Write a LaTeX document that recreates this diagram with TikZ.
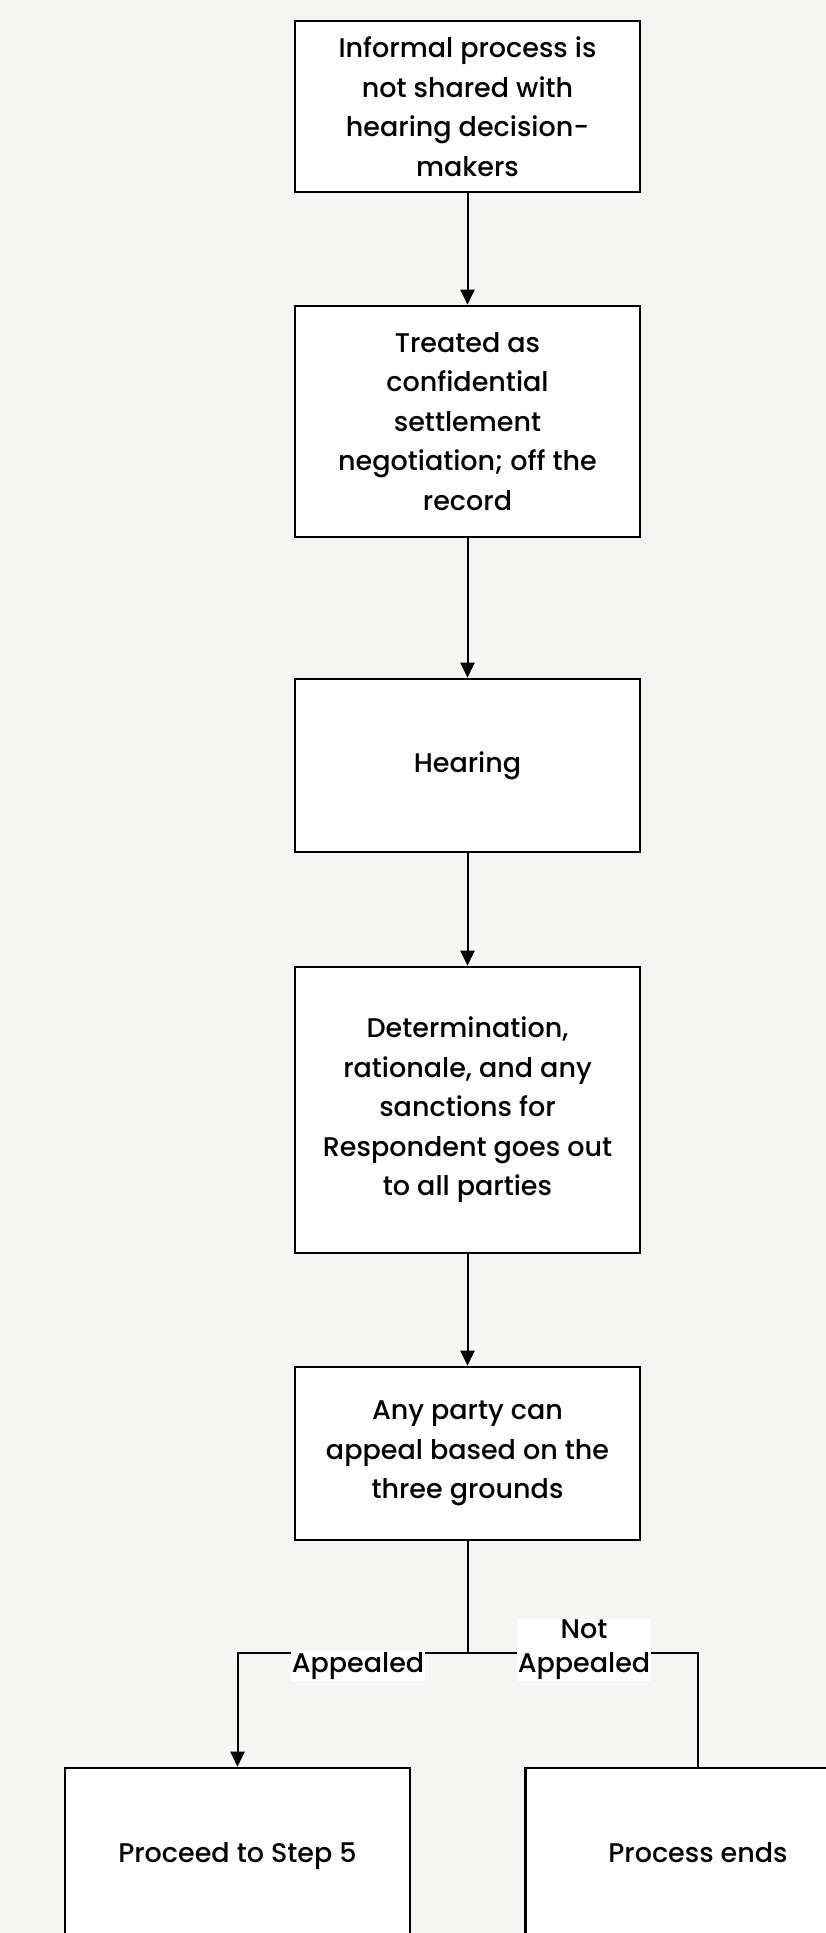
\documentclass[tikz,border=0pt]{standalone}
\usepackage{fontspec}
\setmainfont{Poppins Medium}
\usetikzlibrary{arrows.meta, positioning}
\definecolor{paper}{RGB}{245, 245, 244}
\tikzset{
  stepbox/.style={draw=black, line width=2.6pt, fill=white, minimum width=345pt, inner sep=0pt, align=center, font=\fontsize{27}{39.5}\selectfont},
  flowarrow/.style={line width=2pt, -{Triangle[width=14pt, length=15pt]}},
  flowline/.style={line width=2pt},
  branchlabel/.style={fill=white, inner sep=1pt, align=center, font=\fontsize{27}{34}\selectfont}
}
\begin{document}
\begin{tikzpicture}[x=1pt, y=-1pt]
        % Background
        \fill[paper] (0,0) rectangle (826,1933);
        \useasboundingbox (0,0) rectangle (826,1933);

        % Steps
        \node[stepbox, minimum height=171pt] (informal) at (467.5, 106.5) {Informal process is\\not shared with\\hearing decision-\\makers};
        \node[stepbox, minimum height=231pt] (treated) at (467.5, 421.5) {Treated as\\confidential\\settlement\\negotiation; off the\\record};
        \node[stepbox, minimum height=173pt] (hearing) at (467.5, 765.5) {Hearing};
        \node[stepbox, minimum height=286pt] (determination) at (467.5, 1110) {Determination,\\rationale, and any\\sanctions for\\Respondent goes out\\to all parties};
        \node[stepbox, minimum height=173pt] (appeal) at (467.5, 1453.5) {Any party can\\appeal based on the\\three grounds};

        % Outcomes
        \node[stepbox, minimum height=174pt] (stepfive) at (237.5, 1855) {Proceed to Step 5\strut};
        \node[stepbox, minimum height=174pt] (ends) at (698, 1855) {Process ends\strut};

        % Connectors
        \draw[flowarrow] (informal) -- (treated);
        \draw[flowarrow] (treated) -- (hearing);
        \draw[flowarrow] (hearing) -- (determination);
        \draw[flowarrow] (determination) -- (appeal);

        % Branch
        \coordinate (split) at (467.5, 1653);
        \draw[flowline] (appeal.south) -- (split);
        \draw[flowarrow] (split) -| (stepfive.north);
        \draw[flowline] (split) -| (ends.north);
        \node[branchlabel] (appealed) at (358, 1666) {Appealed};
        \node[branchlabel] (notappealed) at (584, 1650) {Not\\Appealed};
\end{tikzpicture}
\end{document}
